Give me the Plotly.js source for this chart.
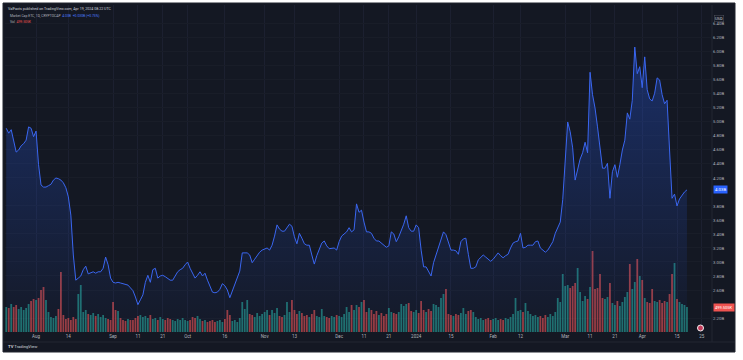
<!DOCTYPE html>
<html><head><meta charset="utf-8">
<script src="https://cdn.plot.ly/plotly-3.0.1.min.js"></script>
<style>html,body{margin:0;padding:0;background:#ffffff;}#chart{width:743px;height:360px;}</style>
</head><body><div id="chart"></div>
<script>
// Daily series, first day 2023-07-20, last day 2024-04-19
const startDate = [2023, 6, 20];
// Market cap, billions USD
const marketCap = [
4.91,4.84,4.89,4.71,4.57,4.60,4.66,4.69,4.74,4.93,
4.91,4.79,4.87,4.39,4.10,4.07,4.07,4.09,4.11,4.17,
4.20,4.19,4.17,4.13,4.06,3.93,3.67,3.10,2.74,2.77,
2.80,2.89,2.94,2.83,2.84,2.86,2.84,2.86,2.86,2.91,
3.07,2.96,2.77,2.71,2.70,2.71,2.70,2.69,2.67,2.67,
2.63,2.59,2.50,2.39,2.46,2.53,2.71,2.81,2.71,2.89,
2.91,2.77,2.80,2.81,2.79,2.76,2.74,2.74,2.80,2.86,
2.89,2.91,2.96,3.00,2.91,2.83,2.77,2.81,2.86,2.80,
2.84,2.74,2.64,2.57,2.56,2.57,2.61,2.69,2.66,2.60,
2.49,2.59,2.70,2.79,2.87,3.13,3.13,3.13,3.10,2.99,
3.04,3.10,3.14,3.17,3.19,3.20,3.17,3.24,3.37,3.53,
3.47,3.44,3.44,3.49,3.54,3.51,3.36,3.26,3.41,3.34,
3.26,3.24,3.24,3.10,2.97,3.09,3.17,3.27,3.30,3.23,
3.19,3.19,3.20,3.17,3.29,3.37,3.40,3.43,3.49,3.43,
3.46,3.83,3.71,3.74,3.57,3.43,3.43,3.41,3.34,3.30,
3.30,3.27,3.24,3.21,3.23,3.43,3.40,3.29,3.36,3.44,
3.54,3.66,3.49,3.44,3.44,3.53,3.49,3.17,2.93,2.93,
2.87,2.80,2.99,3.10,3.23,3.33,3.43,3.39,3.29,3.17,
3.17,3.16,3.11,3.29,3.33,3.34,3.11,2.91,2.91,2.93,
3.03,3.07,3.10,3.07,3.04,3.01,3.04,3.09,3.13,3.09,
3.06,3.09,3.11,3.20,3.27,3.29,3.30,3.41,3.20,3.21,
3.24,3.24,3.24,3.29,3.30,3.20,3.17,3.14,3.17,3.23,
3.29,3.41,3.50,3.57,3.89,4.39,5.00,4.86,4.63,4.17,
4.34,4.47,4.56,4.71,4.56,5.71,5.39,5.20,4.93,4.67,
4.34,4.34,4.41,3.91,4.29,4.39,4.21,4.39,4.60,4.74,
5.13,5.04,5.31,6.07,5.69,5.79,5.49,5.93,5.46,5.33,
5.30,5.41,5.63,5.60,5.39,5.26,5.31,4.60,3.91,3.97,
3.80,3.90,3.96,4.00,4.03
];
// Volume, thousands
const volume = [
500,480,560,500,540,460,500,440,480,560,
620,660,640,680,840,900,640,400,300,280,
320,460,1200,340,260,280,240,300,260,760,
940,400,440,360,340,380,320,360,300,340,
280,260,240,600,440,420,280,240,220,260,
240,240,280,320,340,300,320,280,340,260,
280,240,300,260,240,280,260,240,220,260,
240,280,240,220,240,300,280,320,260,220,
240,200,220,240,200,220,240,200,260,440,
340,220,240,200,280,600,460,640,360,340,
300,380,320,360,400,440,340,440,380,480,
320,300,340,600,400,640,440,360,420,380,
320,340,300,360,440,320,300,460,320,300,
280,320,300,340,320,300,360,500,400,540,
440,540,500,600,640,400,480,440,360,420,
340,380,320,360,480,400,380,360,400,560,
520,560,580,420,400,440,380,620,440,400,
460,420,560,540,500,680,760,860,360,340,
320,360,340,380,480,360,420,440,400,300,
260,280,240,260,280,240,260,280,240,260,
240,280,260,300,360,680,420,440,400,580,
420,360,320,340,300,320,280,340,300,360,
320,400,680,600,1160,920,940,880,920,980,
1280,800,620,720,660,900,1620,860,880,1160,
680,660,700,980,580,540,620,520,600,700,
800,1360,860,1000,1460,1120,1040,680,600,580,
860,620,600,640,580,620,600,760,1160,1380,
660,600,560,540,499.505
];
const timeTickDates = ['2023-08-01','2023-08-14','2023-09-01','2023-09-11','2023-09-21','2023-10-01','2023-10-16','2023-11-01','2023-11-13','2023-12-01','2023-12-11','2023-12-21','2024-01-01','2024-01-15','2024-02-01','2024-02-12','2024-03-01','2024-03-11','2024-03-21','2024-04-01','2024-04-15','2024-04-25'];
const timeTickLabels = ['Aug','14','Sep','11','21','Oct','16','Nov','13','Dec','11','21','2024','15','Feb','12','Mar','11','21','Apr','15','25'];
const priceTicks = [2.2,2.4,2.6,2.8,3.0,3.2,3.4,3.6,3.8,4.0,4.2,4.4,4.6,4.8,5.0,5.2,5.4,5.6,5.8,6.0,6.2,6.4];
const headerText = 'ValFacts published on TradingView.com, Apr 19, 2024 08:22 UTC';
const seriesName = 'Market Cap ETC, 1D, CRYPTOCAP';

const dates = marketCap.map((_, i) => new Date(Date.UTC(startDate[0], startDate[1], startDate[2] + i)).toISOString().slice(0, 10));
const teal = 'rgba(38,166,154,0.62)', red = 'rgba(239,83,80,0.62)';
const volColors = volume.map((_, i) => (i === 0 || marketCap[i] >= marketCap[i - 1]) ? teal : red);
const last = marketCap.length - 1;
const chg = marketCap[last] - marketCap[last - 1];
const fmtB = v => v.toFixed(2) + 'B';

const PR = [2.0, 6.671], VR = [0, 6540];
// price-axis value at the height of the last volume bar (where its label sits)
const volLabelAsPrice = PR[0] + (volume[last] / VR[1]) * (PR[1] - PR[0]);
const shownTicks = priceTicks.filter(t => Math.abs(t - marketCap[last]) > 0.12 && Math.abs(t - volLabelAsPrice) > 0.12);

const px = v => (v - 5) / 707;      // helpers for overlay placement in paper space
const py = v => (332 - v) / 327;

const traces = [
  {type: 'bar', x: dates, y: volume, yaxis: 'y', marker: {color: volColors, line: {width: 0}}, hoverinfo: 'skip'},
  {type: 'scatter', mode: 'lines', x: dates, y: marketCap, yaxis: 'y2', line: {color: '#3a66f0', width: 1},
   fill: 'tozeroy', fillgradient: {type: 'vertical', start: 2.0, stop: 6.2,
     colorscale: [[0, 'rgba(41,98,255,0.02)'], [1, 'rgba(41,98,255,0.32)']]}, hoverinfo: 'skip'}
];

const layout = {
  width: 743, height: 360,
  margin: {l: 5, r: 31, t: 5, b: 28},
  paper_bgcolor: '#ffffff', plot_bgcolor: 'rgba(0,0,0,0)',
  showlegend: false, bargap: 0.28,
  font: {family: 'Roboto, "Noto Sans", sans-serif', color: '#b2b5be'},
  xaxis: {type: 'date', range: ['2023-07-19 12:00', '2024-04-29 02:00'],
    tickvals: timeTickDates, ticktext: timeTickLabels, tickfont: {size: 4.5, color: '#b2b5be'},
    showgrid: true, gridcolor: '#1c2030', gridwidth: 1, zeroline: false, ticks: '', showline: false, fixedrange: true},
  yaxis: {range: VR, visible: false, showgrid: false, fixedrange: true},
  yaxis2: {overlaying: 'y', side: 'right', range: PR, tickvals: shownTicks,
    ticktext: shownTicks.map(fmtB), tickfont: {size: 4.3, color: '#b2b5be'}, ticks: '', ticklen: 0,
    showgrid: true, gridcolor: '#191d28', gridwidth: 1, zeroline: false, showline: false, fixedrange: true},
  shapes: [
    {type: 'rect', xref: 'paper', yref: 'paper', x0: px(3), x1: px(735), y0: py(352), y1: py(3),
     fillcolor: '#141823', line: {color: '#20242f', width: 1}, layer: 'below'},
    {type: 'line', xref: 'paper', yref: 'paper', x0: px(712), x1: px(712), y0: py(342), y1: py(5),
     line: {color: '#232733', width: 1}, layer: 'below'},
    {type: 'line', xref: 'paper', yref: 'paper', x0: px(3), x1: px(735), y0: py(342), y1: py(342),
     line: {color: '#232733', width: 1}, layer: 'below'},
    {type: 'circle', xref: 'paper', yref: 'paper', x0: px(697.5), x1: px(703.5), y0: py(331), y1: py(325),
     fillcolor: '#c43d5c', line: {color: '#f2f2f2', width: 1}}
  ],
  annotations: [
    {xref: 'paper', yref: 'paper', x: px(6), y: py(9), xanchor: 'left', yanchor: 'middle', showarrow: false,
     text: headerText, font: {size: 3.6, color: '#d1d4dc'}},
    {xref: 'paper', yref: 'paper', x: px(8), y: py(16), xanchor: 'left', yanchor: 'middle', showarrow: false,
     text: seriesName + '  <span style="color:#4c7bff">' + fmtB(marketCap[last]) + '  ' + (chg >= 0 ? '+' : '') + chg.toFixed(3) + 'B (' + (chg >= 0 ? '+' : '') + (chg / marketCap[last - 1] * 100).toFixed(2) + '%)</span>',
     font: {size: 3.4, color: '#b2b5be'}},
    {xref: 'paper', yref: 'paper', x: px(8), y: py(22), xanchor: 'left', yanchor: 'middle', showarrow: false,
     text: 'Vol  <span style="color:#ef5350">' + volume[last].toFixed(3) + 'K</span>', font: {size: 3.4, color: '#b2b5be'}},
    {xref: 'paper', yref: 'paper', x: px(714), y: py(18), xanchor: 'left', yanchor: 'middle', showarrow: false,
     text: 'USD', font: {size: 4, color: '#d1d4dc'}, bordercolor: '#50535e', borderwidth: 0.5, borderpad: 0.5},
    {xref: 'paper', yref: 'y2', x: px(713), y: marketCap[last], xanchor: 'left', yanchor: 'middle', showarrow: false,
     text: fmtB(marketCap[last]), bgcolor: '#2962ff', font: {size: 4.3, color: '#ffffff'}, borderpad: 1},
    {xref: 'paper', yref: 'y', x: px(713), y: volume[last], xanchor: 'left', yanchor: 'middle', showarrow: false,
     text: volume[last].toFixed(3) + 'K', bgcolor: '#ef5350', font: {size: 4, color: '#ffffff'}, borderpad: 1},
    {xref: 'paper', yref: 'paper', x: px(6), y: py(346), xanchor: 'left', yanchor: 'middle', showarrow: false,
     text: '<b>TV</b> TradingView', font: {size: 4.2, color: '#d1d4dc'}}
  ]
};

Plotly.newPlot('chart', traces, layout, {staticPlot: true, displayModeBar: false});
</script>
</body></html>
